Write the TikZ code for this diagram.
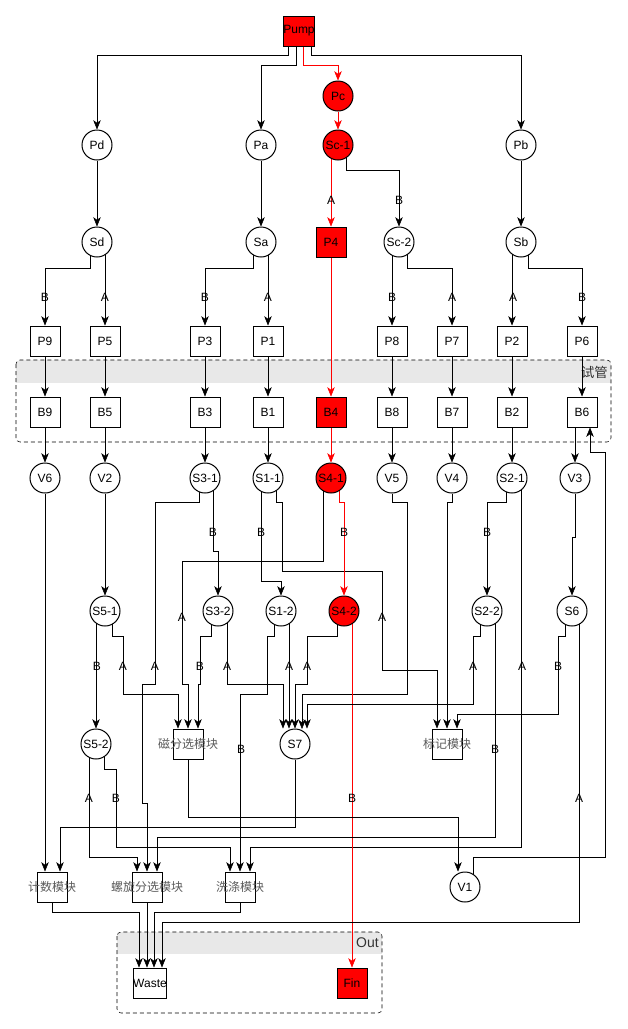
\documentclass[tikz,border=0pt]{standalone}
\usepackage{fontspec}
\setmainfont{Liberation Sans}
\newfontfamily\cjk{Noto Sans CJK SC}
\usetikzlibrary{arrows.meta,calc,backgrounds}

\definecolor{hotred}{RGB}{255,0,0}
\definecolor{bandgray}{RGB}{232,232,232}
\definecolor{modgray}{RGB}{90,90,90}
\definecolor{grptxt}{RGB}{51,51,51}

\tikzset{every picture/.style={line width=0.75pt}}
\tikzset{
	circ/.style={circle,draw,fill=white,inner sep=0pt,minimum size=22.5pt,font=\fontsize{9pt}{10pt}\selectfont},
	sqbox/.style={rectangle,draw,fill=white,inner sep=0pt,minimum size=22.5pt,font=\fontsize{9pt}{10pt}\selectfont},
	hot/.style={fill=hotred},
	modbox/.style={sqbox,label={[font=\cjk\fontsize{9pt}{10pt}\selectfont,text=modgray]center:#1}},
	lbl/.style={inner sep=0pt,font=\fontsize{9pt}{10pt}\selectfont},
	grplbl/.style={inner sep=0pt,anchor=east,text=grptxt},
	flow/.style={-{Stealth[length=7pt,width=5.6pt,inset=2pt]}},
	hotflow/.style={flow,color=hotred},
	grp/.style={draw,dash pattern=on 3pt off 2.25pt,rounded corners=3pt}}

\begin{document}
\begin{tikzpicture}[x=0.75pt,y=0.75pt,yscale=-1,xscale=1]
	\useasboundingbox (0,0) rectangle (628,1029);

	% Pumps
	\node[sqbox,hot] (Pump) at (299,31) {Pump};
	\node[circ,hot] (Pc) at (338,96) {Pc};
	\node[circ] (Pd) at (97,145) {Pd};
	\node[circ] (Pa) at (261,145) {Pa};
	\node[circ,hot] (Sc1) at (338,145) {Sc-1};
	\node[circ] (Pb) at (521,145) {Pb};
	% Splitters
	\node[circ] (Sd) at (97,242) {Sd};
	\node[circ] (Sa) at (261,242) {Sa};
	\node[sqbox,hot] (P4) at (331,242) {P4};
	\node[circ] (Sc2) at (399,242) {Sc-2};
	\node[circ] (Sb) at (521,242) {Sb};
	% P row and tubes
	\foreach \n/\x in {9/45,5/105,3/205,1/268,8/392,7/452,2/512,6/582}{
		\node[sqbox] (P\n) at (\x,341) {P\n};
		\node[sqbox] (B\n) at (\x,412) {B\n};
	}
	\node[sqbox,hot] (B4) at (331,412) {B4};
	% Valves and switches under the tubes
	\node[circ] (V6) at (45,478) {V6};
	\node[circ] (V2) at (105,478) {V2};
	\node[circ] (S31) at (205,478) {S3-1};
	\node[circ] (S11) at (268,478) {S1-1};
	\node[circ,hot] (S41) at (331,478) {S4-1};
	\node[circ] (V5) at (392,478) {V5};
	\node[circ] (V4) at (452,478) {V4};
	\node[circ] (S21) at (512,478) {S2-1};
	\node[circ] (V3) at (575,478) {V3};
	% Second switches
	\node[circ] (S51) at (105,611) {S5-1};
	\node[circ] (S32) at (218,611) {S3-2};
	\node[circ] (S12) at (281,611) {S1-2};
	\node[circ,hot] (S42) at (344,611) {S4-2};
	\node[circ] (S22) at (487,611) {S2-2};
	\node[circ] (S6) at (572,611) {S6};
	% Modules
	\node[circ] (S52) at (96,744) {S5-2};
	\node[modbox=磁分选模块] (Mag) at (188,744) {};
	\node[circ] (S7) at (295,744) {S7};
	\node[modbox=标记模块] (Mark) at (447,744) {};
	\node[modbox=计数模块] (Count) at (52,887) {};
	\node[modbox=螺旋分选模块] (Spiral) at (147,887) {};
	\node[modbox=洗涤模块] (Wash) at (240,887) {};
	\node[circ] (V1) at (465,887) {V1};
	% Outlets
	\node[sqbox] (Waste) at (150,983) {Waste};
	\node[sqbox,hot] (Fin) at (352,983) {Fin};

	\begin{scope}[on background layer]
		% Group: tubes
		\begin{scope}
			\clip[rounded corners=3pt] (16,360) rectangle (611,442);
			\fill[bandgray] (16,360) rectangle (611,383);
		\end{scope}
		\draw[grp] (16,360) rectangle (611,442);
		\node[grplbl,font=\cjk\fontsize{10pt}{11pt}\selectfont] (TubeLbl) at (608,372) {试管};
		% Group: out
		\begin{scope}
			\clip[rounded corners=3pt] (117,932) rectangle (382,1013);
			\fill[bandgray] (117,932) rectangle (382,954);
		\end{scope}
		\draw[grp] (117,932) rectangle (382,1013);
		\node[grplbl,font=\fontsize{10.5pt}{11pt}\selectfont] (OutLbl) at (379,943) {Out};

		% Pump feeds
		\draw[flow] ($(Pump)+(-11,0)$) -- ++(0,24) -| (Pd.north);
		\draw[flow] ($(Pump)+(-3,0)$) -- ++(0,34) -| (Pa.north);
		\draw[hotflow] ($(Pump)+(4,0)$) -- ++(0,34) -| (Pc.north);
		\draw[flow] ($(Pump)+(12,0)$) -- ++(0,24) -| (Pb.north);
		\draw[hotflow] (Pc) -- (Sc1.north);
		\foreach \a/\b in {Pd/Sd,Pa/Sa,Pb/Sb} \draw[flow] (\a) -- (\b.north);
		\draw[hotflow] (Sc1 -| P4) -- (P4.north);
		\draw[flow] ($(Sc1)+(8,0)$) -- ++(0,25) -| (Sc2.north);
		% Splitters to P row
		\draw[flow] ($(Sd)+(-7,0)$) -- ++(0,26) -| (P9.north);
		\draw[flow] (Sd -| P5) -- (P5.north);
		\draw[flow] ($(Sa)+(-8,0)$) -- ++(0,26) -| (P3.north);
		\draw[flow] (Sa -| P1) -- (P1.north);
		\draw[flow] (Sc2 -| P8) -- (P8.north);
		\draw[flow] ($(Sc2)+(8,0)$) -- ++(0,26) -| (P7.north);
		\draw[flow] (Sb -| P2) -- (P2.north);
		\draw[flow] ($(Sb)+(7,0)$) -- ++(0,26) -| (P6.north);
		% P row -> tubes -> row below
		\foreach \n in {9,5,3,1,8,7,2,6} \draw[flow] (P\n) -- (B\n.north);
		\draw[hotflow] (P4) -- (B4.north);
		\foreach \b/\s in {B9/V6,B5/V2,B3/S31,B1/S11,B8/V5,B7/V4,B2/S21} \draw[flow] (\b) -- (\s.north);
		\draw[hotflow] (B4) -- (S41.north);
		\draw[flow] (B6 -| V3) -- (V3.north);

		% From the valve row
		\draw[flow] (V6) -- (V6 |- Count.north);
		\draw[flow] (V2) -- (S51.north);
		\draw[flow] ($(S31)+(-6,0)$) |- (155,502) -- (155,684) -- (142,684) |- (147,803) -- (Spiral.north);
		\draw[flow] ($(S31)+(8,0)$) -- ++(0,73) -| (S32.north);
		\draw[flow] ($(S11)+(-7,0)$) -- ++(0,103) -| (S12.north);
		\draw[flow] ($(S11)+(8,0)$) |- (282,502) |- (382,571) |- (437,670) -- ($(Mark.north)+(-10,0)$);
		\draw[flow] ($(S41)+(-8,0)$) |- (182,561) |- (188,684) -- (Mag.north);
		\draw[hotflow] ($(S41)+(8,0)$) |- (344,502) -- (S42.north);
		\draw[flow] (V5) |- (407,502) |- (302,694) -- (302,729);
		\draw[flow] (V4) |- (447,502) -- (Mark.north);
		\draw[flow] ($(S21)+(-6,0)$) |- (487,502) -- (S22.north);
		\draw[flow] ($(S21)+(9,0)$) |- (250,847) -- ($(Wash.north)+(10,0)$);
		\draw[flow] (V3) |- (572,537) -- (S6.north);

		% From the second switches
		\draw[flow] ($(S51)+(-9,0)$) -- (S52.north);
		\draw[flow] ($(S51)+(7,0)$) |- (123,636) |- (178,694) -- ($(Mag.north)+(-10,0)$);
		\draw[flow] ($(S32)+(-7,0)$) |- (200,636) |- (198,684) -- ($(Mag.north)+(10,0)$);
		\draw[flow] ($(S32)+(9,0)$) |- (283,684) -- ($(S7.north)+(-12,0)$);
		\draw[flow] ($(S12)+(-7,0)$) |- (267,636) |- (240,694) -- (Wash.north);
		\draw[flow] ($(S12)+(8,0)$) -- ($(S7.north)+(-6,0)$);
		\draw[flow] ($(S42)+(-7,0)$) |- (307,636) |- (295,684) -- (S7.north);
		\draw[hotflow] ($(S42)+(8,0)$) -- (Fin.north);
		\draw[flow] ($(S22)+(-7,0)$) |- (473,636) |- (307,704) -- ($(S7.north)+(12,0)$);
		\draw[flow] ($(S22)+(8,0)$) |- (157,837) -- ($(Spiral.north)+(10,0)$);
		\draw[flow] ($(S6)+(-7,0)$) |- (558,636) |- (457,714) -- ($(Mark.north)+(10,0)$);
		\draw[flow] ($(S6)+(7,0)$) |- (162,922) -- ($(Waste.north)+(12,0)$);

		% Module row
		\draw[flow] ($(S52)+(-7,0)$) |- (137,857) -- ($(Spiral.north)+(-10,0)$);
		\draw[flow] ($(S52)+(8,0)$) |- (116,769) |- (230,847) -- ($(Wash.north)+(-10,0)$);
		\draw[flow] (Mag) |- (458,817) -- ($(V1.north)+(-7,0)$);
		\draw[flow] (S7) |- (60,827) -- ($(Count.north)+(8,0)$);
		\draw[flow] ($(V1)+(8,0)$) |- (605,857) |- (590,452) -- ($(B6.south)+(8,0)$);

		% To waste
		\draw[flow] (Count) |- (139,912) -- ($(Waste.north)+(-11,0)$);
		\draw[flow] (Spiral) -- (Spiral |- Waste.north);
		\draw[flow] (Wash) |- (154,912) -- ($(Waste.north)+(4,0)$);
	\end{scope}

	% Edge labels
	\foreach \x/\y/\t [count=\i] in {331/200/A,399/200/B,45/297/B,105/297/A,205/297/B,268/297/A,392/297/B,452/297/A,513/297/A,582/297/B,
		213/532/B,261/532/B,344/532/B,487/532/B,182/617/A,382/617/A,155/666/A,97/666/B,123/666/A,200/666/B,227/666/A,289/666/A,307/666/A,
		473/666/A,522/666/A,558/666/B,241/749/B,495/749/B,89/798/A,116/798/B,352/798/B,579/798/A}
		\node[lbl] (lab\i) at (\x,\y) {\t};

\end{tikzpicture}
\end{document}
